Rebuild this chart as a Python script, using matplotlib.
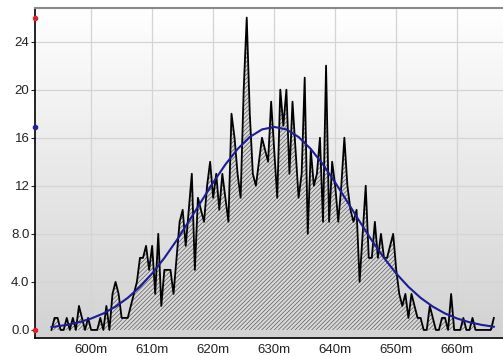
import numpy as np
import matplotlib
matplotlib.use("Agg")
import matplotlib.pyplot as plt

# histogram counts, bin centres every 0.5 m
bin_start = 593.5
bin_step = 0.5
counts = [
    0, 1, 1, 0, 0, 1, 0, 1, 0, 2, 1, 0, 1, 0, 0, 0, 1, 0, 2, 0,
    3, 4, 3, 1, 1, 1, 2, 3, 4, 6, 6, 7, 5, 7, 3, 8, 2, 5, 5, 5,
    3, 6, 9, 10, 7, 10, 13, 5, 11, 10, 9, 12, 14, 11, 13, 10, 13, 11, 9, 18,
    16, 13, 11, 20, 26, 18, 13, 12, 14, 16, 15, 14, 19, 15, 11, 20, 17, 20, 13, 19,
    15, 11, 13, 21, 8, 15, 12, 13, 16, 9, 22, 9, 14, 12, 9, 12, 16, 12, 10, 9,
    10, 4, 8, 12, 6, 6, 9, 6, 8, 6, 6, 7, 8, 5, 3, 2, 3, 1, 3, 2,
    1, 1, 0, 0, 2, 1, 0, 0, 1, 1, 0, 3, 0, 0, 0, 1, 0, 0, 1, 0,
    0, 0, 0, 0, 0, 1,
]

# gaussian fit curve
fit_x = [593.5, 594, 596, 598, 600, 602, 604, 606, 608, 610, 612, 614, 616, 618,
         620, 622, 624, 626, 628, 630, 632, 634, 636, 638, 640, 642, 644, 646,
         648, 650, 652, 654, 656, 658, 660, 662, 664, 666]
fit_y = [0.24, 0.27, 0.42, 0.64, 0.95, 1.37, 1.94, 2.67, 3.59, 4.70, 5.99, 7.45,
         9.03, 10.66, 12.27, 13.77, 15.06, 16.06, 16.69, 16.9, 16.69, 16.06, 15.06,
         13.77, 12.27, 10.66, 9.03, 7.45, 5.99, 4.70, 3.59, 2.67, 1.94, 1.37, 0.95,
         0.64, 0.42, 0.27]

x_ticks = [600, 610, 620, 630, 640, 650, 660]
x_labels = ["600m", "610m", "620m", "630m", "640m", "650m", "660m"]
y_ticks = [0, 4, 8, 12, 16, 20, 24]
y_labels = ["0.0", "4.0", "8.0", "12", "16", "20", "24"]

plt.rcParams['font.family'] = ['Liberation Sans', 'DejaVu Sans']
plt.rcParams['hatch.color'] = '#5a5a5a'
plt.rcParams['hatch.linewidth'] = 0.5

x = bin_start + bin_step * np.arange(len(counts))

fig = plt.figure(figsize=(5.03, 3.56), dpi=100)
ax = fig.add_axes([0.0696, 0.0506, 0.9304, 0.927])

# vertical gradient background
grad = np.linspace(0, 1, 256).reshape(-1, 1)
ax.imshow(grad, extent=[0, 1, 0, 1], transform=ax.transAxes, aspect='auto',
          cmap=matplotlib.colors.LinearSegmentedColormap.from_list(
              'bg', ['#d2d2d2', '#ffffff']),
          origin='lower', zorder=0)

ax.grid(True, color='#d4d4d4', linewidth=0.9, zorder=1)

ax.fill_between(x, 0, counts, facecolor='#d9d9d9', edgecolor='#5a5a5a',
                hatch='////////', linewidth=0, zorder=2)
ax.plot(x, counts, color='black', linewidth=1.3, zorder=3)
ax.plot(fit_x, fit_y, color='#1c1c96', linewidth=1.5, zorder=4)

# min / max / fit markers on the y axis
ax.plot([590.8, 590.8], [0, max(counts)], 'o', color='#e0202a', markersize=3,
        clip_on=False, zorder=5)
ax.plot([590.8], [max(fit_y)], 'o', color='#2020a0', markersize=3,
        clip_on=False, zorder=5)

ax.set_xlim(590.8, 667.5)
ax.set_ylim(-0.67, 26.8)
ax.set_xticks(x_ticks)
ax.set_xticklabels(x_labels)
ax.set_yticks(y_ticks)
ax.set_yticklabels(y_labels)
ax.tick_params(axis='both', labelsize=9.5, colors='#222222', length=3, width=0.8)
ax.tick_params(axis='x', length=0, pad=4)
ax.tick_params(axis='y', pad=1)

ax.spines['left'].set_color('black')
ax.spines['bottom'].set_color('black')
ax.spines['left'].set_linewidth(1.2)
ax.spines['bottom'].set_linewidth(1.2)
ax.spines['top'].set_color('#8a8a8a')
ax.spines['top'].set_linewidth(1.5)
ax.spines['right'].set_visible(False)

plt.savefig("out.png", dpi=100)
